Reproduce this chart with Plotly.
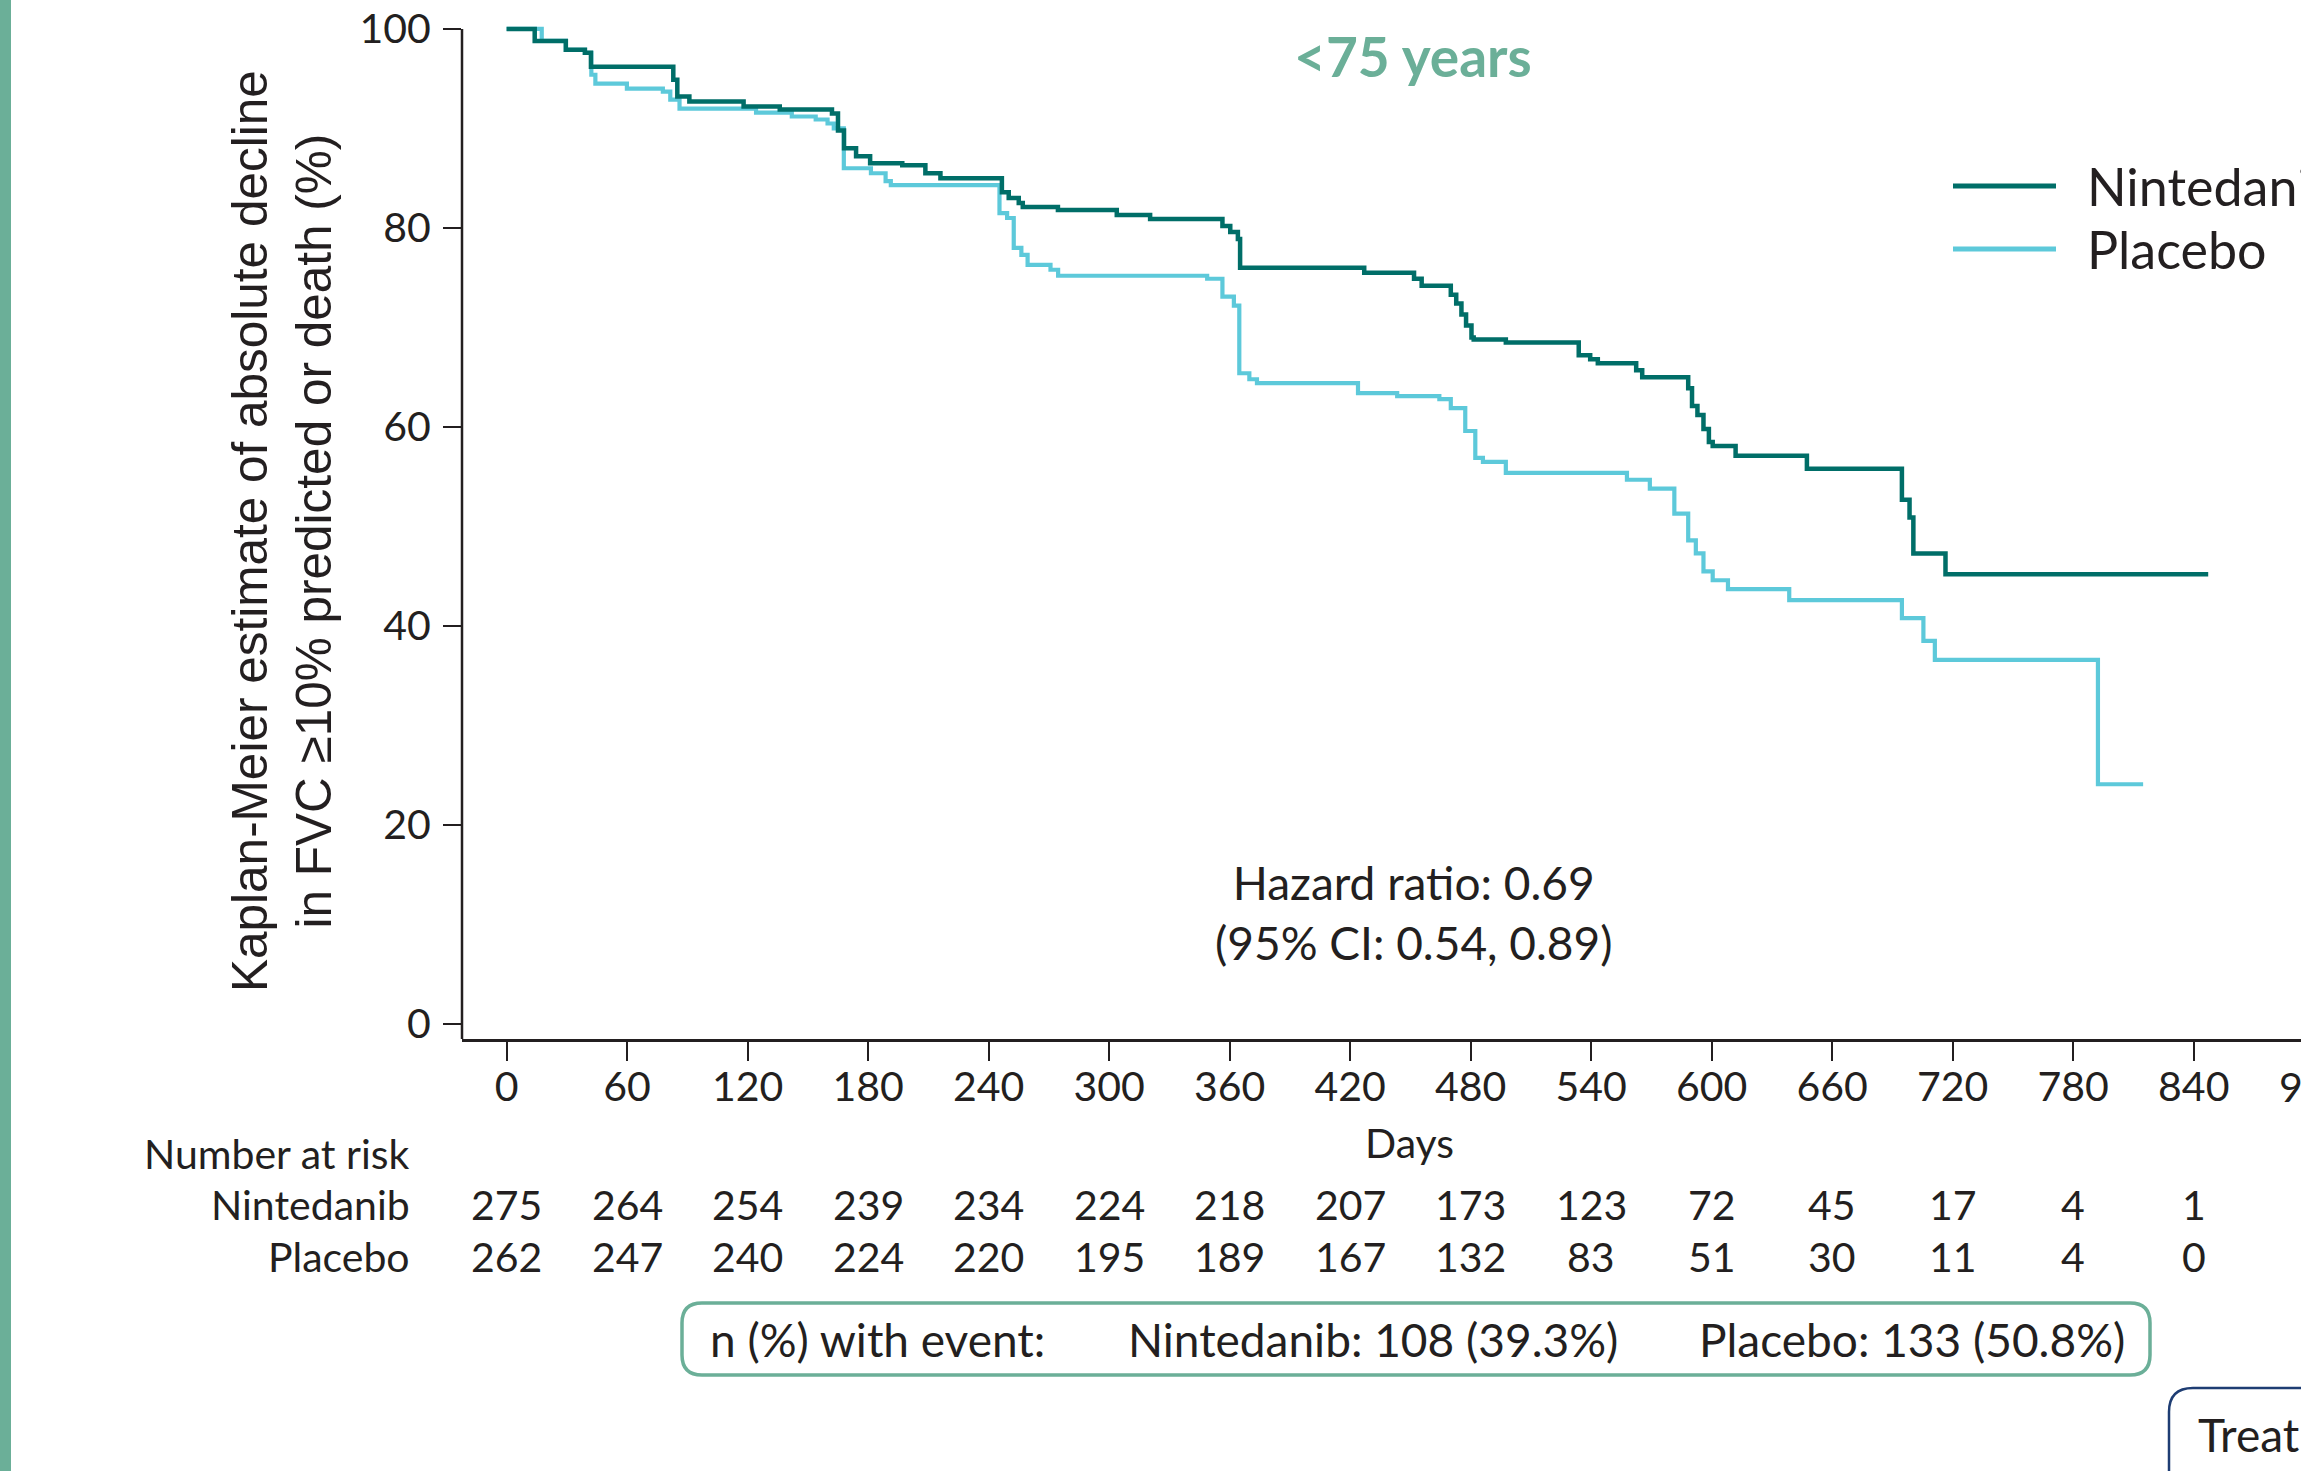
import plotly.graph_objects as go

# ---------------- data ----------------
nin_name = "Nintedanib"
pla_name = "Placebo"

nin_days = [0, 14, 29.5, 39, 42, 83, 85, 91, 118, 136, 162, 165, 168, 174, 181, 197, 208.5, 216,
            246.6, 250, 255, 257, 274.5, 303.8, 320.4, 356.4, 360.3, 364.1, 365.2, 427, 451.8, 455.6,
            470.1, 472.8, 475.4, 477.7, 480.4, 481.5, 497.5, 533.8, 539.5, 543.3, 562.4, 565.4,
            588.3, 590.2, 592.9, 595.9, 598.6, 600.5, 611.9, 647.4, 694.7, 698.5, 700.4, 716.4, 847.2]
nin_surv = [100, 98.8, 97.9, 97.6, 96.2, 94.9, 93.2, 92.7, 92.2, 91.9, 91.5, 89.8, 88.0, 87.2, 86.5, 86.3, 85.5, 85.0,
            83.6, 83.0, 82.5, 82.1, 81.8, 81.3, 80.9, 80.2, 79.6, 78.9, 76.0, 75.5, 74.9, 74.2,
            73.3, 72.4, 71.3, 70.2, 69.0, 68.8, 68.5, 67.2, 66.8, 66.4, 65.7, 65.0,
            63.9, 62.1, 61.2, 59.8, 58.5, 58.1, 57.1, 55.8, 52.7, 50.9, 47.3, 45.2, 45.2]

pla_days = [0, 17.5, 29.5, 39, 42.2, 44.2, 59.9, 77.8, 81.5, 86.1, 124.2, 142, 153.9, 159.8, 162.9, 167.9,
            181.4, 188.7, 191.3, 245.4, 249.2, 252.5, 256.3, 259.4, 270.8, 274.6, 348.8, 356.4, 362.1,
            364.8, 369.8, 373.6, 423.9, 443.4, 464.4, 470.1, 477.3, 482.3, 486.1, 497.5, 557.8, 569.2,
            581.4, 588.3, 592.1, 595.9, 600.5, 608.1, 638.6, 694.7, 705.4, 711.1, 792.3, 814.8]
pla_surv = [100, 98.8, 97.9, 97.6, 95.4, 94.5, 94.0, 93.7, 92.9, 92.0, 91.6, 91.2, 90.9, 90.5, 90.0, 86.0,
            85.5, 84.7, 84.3, 81.5, 81.0, 78.0, 77.3, 76.3, 75.8, 75.2, 74.9, 73.1, 72.2,
            65.4, 64.8, 64.4, 63.4, 63.1, 62.8, 61.9, 59.6, 56.9, 56.5, 55.4, 54.7, 53.8,
            51.3, 48.6, 47.3, 45.5, 44.6, 43.7, 42.6, 40.8, 38.5, 36.6, 24.1, 24.1]

tick_days = [0, 60, 120, 180, 240, 300, 360, 420, 480, 540, 600, 660, 720, 780, 840]
y_ticks = [0, 20, 40, 60, 80, 100]
nin_at_risk = [275, 264, 254, 239, 234, 224, 218, 207, 173, 123, 72, 45, 17, 4, 1]
pla_at_risk = [262, 247, 240, 224, 220, 195, 189, 167, 132, 83, 51, 30, 11, 4, 0]

nin_events = "Nintedanib: 108 (39.3%)"
pla_events = "Placebo: 133 (50.8%)"
hr_text = "Hazard ratio: 0.69<br>(95% CI: 0.54, 0.89)"
subgroup = "&lt;75 years"

# ---------------- styling ----------------
C_NIN = "#006E68"
C_PLA = "#5DC9DA"
C_GREEN = "#6BAF98"
C_NAVY = "#1E3D73"
C_TXT = "#231F20"
FONT = "Lato, 'Open Sans', sans-serif"
FONT_Y = "'Liberation Sans', Arial, sans-serif"

W, H = 2301, 1471
L, R, T, B = 462, 0, 19, 432
PW, PH = W - L - R, H - T - B


def px(xf):
    return (xf - L) / PW


def py(yf):
    return (H - B - yf) / PH


fig = go.Figure()
fig.add_trace(go.Scatter(x=nin_days, y=nin_surv, mode="lines", name=nin_name,
                         line=dict(color=C_NIN, width=4.5, shape="hv"), showlegend=False))
fig.add_trace(go.Scatter(x=pla_days, y=pla_surv, mode="lines", name=pla_name,
                         line=dict(color=C_PLA, width=4.2, shape="hv"), showlegend=False))
fig.data = (fig.data[1], fig.data[0])

shapes = []
shapes.append(dict(type="line", xref="paper", yref="y", x0=0, x1=0, y0=-1.5, y1=100,
                   line=dict(color=C_TXT, width=2.5)))
shapes.append(dict(type="rect", xref="paper", yref="paper", x0=px(-2), x1=px(11), y0=py(H + 5), y1=py(-5),
                   fillcolor=C_GREEN, line=dict(width=0)))


def rrect(x0, y0, x1, y1, rx, ry):
    return (f"M {x0+rx},{y0} L {x1-rx},{y0} Q {x1},{y0} {x1},{y0+ry} L {x1},{y1-ry} "
            f"Q {x1},{y1} {x1-rx},{y1} L {x0+rx},{y1} Q {x0},{y1} {x0},{y1-ry} "
            f"L {x0},{y0+ry} Q {x0},{y0} {x0+rx},{y0} Z")


shapes.append(dict(type="path", xref="paper", yref="paper",
                   path=rrect(px(682), py(1375), px(2150), py(1303), 20 / PW, 20 / PH),
                   line=dict(color=C_GREEN, width=3.5)))
shapes.append(dict(type="path", xref="paper", yref="paper",
                   path=rrect(px(2169), py(1520), px(2400), py(1388), 24 / PW, 24 / PH),
                   line=dict(color=C_NAVY, width=2.5)))
for yf, col in [(186, C_NIN), (249, C_PLA)]:
    shapes.append(dict(type="line", xref="paper", yref="paper", x0=px(1953), x1=px(2056),
                       y0=py(yf), y1=py(yf), line=dict(color=col, width=5)))

ann = []
TF = dict(family=FONT, size=41, color=C_TXT)
BF = dict(family=FONT, size=46, color=C_TXT)
ann.append(dict(xref="paper", yref="paper", x=px(281), y=py(531), showarrow=False, textangle=-90,
                text="Kaplan-Meier estimate of absolute decline<br>in FVC \u226510% predicted or death (%)",
                font=dict(family=FONT_Y, size=49.5, color=C_TXT), xanchor="center", yanchor="middle"))
ann.append(dict(xref="paper", yref="paper", x=px(1413), y=py(56), showarrow=False, text="<b>" + subgroup + "</b>",
                font=dict(family=FONT, size=55, color=C_GREEN), xanchor="center", yanchor="middle"))
for yf, nm in [(186, nin_name), (249, pla_name)]:
    ann.append(dict(xref="paper", yref="paper", x=px(2085), y=py(yf), showarrow=False, text=nm,
                    font=dict(family=FONT, size=52, color=C_TXT), xanchor="left", yanchor="middle"))
ann.append(dict(xref="paper", yref="paper", x=px(1413), y=py(912), showarrow=False, text=hr_text,
                font=BF, xanchor="center", yanchor="middle"))
ann.append(dict(xref="paper", yref="paper", x=px(506.6 + 900 * 2.0086), y=py(1086), showarrow=False, text="900",
                font=TF, xanchor="center", yanchor="middle"))
ann.append(dict(xref="paper", yref="paper", x=px(1409), y=py(1142), showarrow=False, text="Days",
                font=TF, xanchor="center", yanchor="middle"))
ann.append(dict(xref="paper", yref="paper", x=px(412), y=py(1153), showarrow=False, text="Number at risk",
                font=TF, xanchor="right", yanchor="middle"))
for yf, nm, vals in [(1204, nin_name, nin_at_risk), (1256, pla_name, pla_at_risk)]:
    ann.append(dict(xref="paper", yref="paper", x=px(412), y=py(yf), showarrow=False, text=nm,
                    font=TF, xanchor="right", yanchor="middle"))
    for d, v in zip(tick_days, vals):
        ann.append(dict(xref="x", yref="paper", x=d, y=py(yf), showarrow=False, text=str(v),
                        font=TF, xanchor="center", yanchor="middle"))
ann.append(dict(xref="paper", yref="paper", x=px(708), y=py(1339), showarrow=False, text="n (%) with event:",
                font=BF, xanchor="left", yanchor="middle"))
ann.append(dict(xref="paper", yref="paper", x=px(1126), y=py(1339), showarrow=False, text=nin_events,
                font=BF, xanchor="left", yanchor="middle"))
ann.append(dict(xref="paper", yref="paper", x=px(1697), y=py(1339), showarrow=False, text=pla_events,
                font=BF, xanchor="left", yanchor="middle"))
ann.append(dict(xref="paper", yref="paper", x=px(2196), y=py(1434), showarrow=False, text="Treatment",
                font=BF, xanchor="left", yanchor="middle"))

fig.update_layout(
    width=W, height=H,
    margin=dict(l=L, r=R, t=T, b=B, autoexpand=False),
    paper_bgcolor="white", plot_bgcolor="white",
    showlegend=False,
    shapes=shapes, annotations=ann,
    xaxis=dict(range=[-22.2, 893.4], tickvals=tick_days, ticktext=[str(t) for t in tick_days],
               ticks="outside", ticklen=19, tickwidth=2, tickcolor=C_TXT,
               showline=True, linewidth=2.5, linecolor=C_TXT, showgrid=False, zeroline=False,
               tickfont=TF, ticklabelstandoff=-9),
    yaxis=dict(range=[-1.5, 101], tickvals=y_ticks, ticks="outside", ticklen=18, tickwidth=2,
               tickcolor=C_TXT, showline=False, showgrid=False, zeroline=False, tickfont=TF,
               ticklabelstandoff=4),
)

fig.write_html("out.html", config={"displayModeBar": False},
               post_script="document.body.style.margin='0';document.body.style.overflow='hidden';")
